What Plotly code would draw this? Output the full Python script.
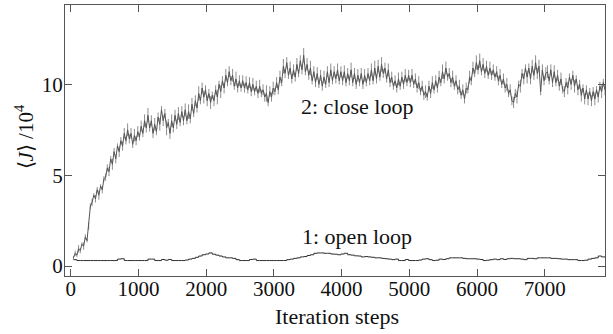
import plotly.graph_objects as go

# close loop: <J>/10^4 sampled every 25 iteration steps starting at step 40
close_start, close_step = 40, 25
close_loop = [
    0.45, 0.7, 0.6, 0.95, 0.85, 1.2, 1.1, 1.6, 1.4, 2.2,
    3.3, 3.5, 3.9, 3.7, 4.2, 3.9, 4.4, 4.2, 4.8, 4.9,
    5.4, 5.2, 5.9, 5.6, 6.3, 5.9, 6.6, 6.3, 6.9, 6.6,
    7.3, 6.9, 7.5, 7.0, 7.3, 6.7, 7.2, 6.9, 7.4, 7.1,
    7.7, 7.3, 8.0, 7.6, 8.3, 7.6, 8.0, 7.3, 7.8, 7.4,
    8.2, 7.8, 8.6, 8.0, 8.4, 7.6, 7.9, 7.3, 8.0, 7.6,
    8.3, 7.8, 8.4, 7.9, 8.5, 8.0, 8.6, 8.0, 8.5, 8.1,
    8.9, 8.4, 9.1, 8.7, 9.5, 9.1, 9.8, 9.3, 9.7, 9.1,
    9.5, 9.0, 9.4, 9.1, 9.7, 9.3, 10.0, 9.6, 10.2, 9.8,
    10.5, 10.1, 10.7, 10.2, 10.5, 9.9, 10.3, 9.8, 10.2, 9.8,
    10.2, 9.8, 10.1, 9.7, 10.1, 9.6, 10.0, 9.6, 9.9, 9.5,
    9.9, 9.5, 9.7, 9.3, 9.5, 9.0, 9.6, 9.3, 9.8, 9.6,
    10.1, 9.7, 10.4, 10.1, 11.0, 10.6, 11.2, 10.5, 10.9, 10.3,
    10.8, 10.4, 11.1, 10.6, 11.3, 10.8, 11.6, 10.7, 11.1, 10.5,
    10.9, 10.2, 10.7, 10.1, 10.6, 10.0, 10.5, 9.9, 10.4, 10.0,
    10.7, 10.1, 10.8, 10.2, 10.7, 10.3, 10.8, 10.2, 10.7, 10.2,
    10.7, 10.1, 10.6, 10.2, 10.8, 10.1, 10.6, 10.0, 10.5, 10.1,
    10.6, 10.0, 10.5, 10.1, 10.6, 10.2, 10.8, 10.2, 10.9, 10.3,
    11.0, 10.4, 11.1, 10.6, 10.9, 10.3, 10.8, 10.1, 10.4, 9.9,
    10.2, 9.8, 10.3, 9.9, 10.4, 10.0, 10.5, 10.1, 10.5, 10.1,
    10.5, 10.0, 10.3, 9.8, 10.1, 9.6, 9.9, 9.4, 9.6, 9.3,
    9.9, 9.5, 10.1, 9.7, 10.2, 9.8, 10.4, 10.1, 10.7, 10.3,
    10.9, 10.4, 10.6, 10.1, 10.4, 9.9, 10.2, 9.7, 9.9, 9.4,
    9.7, 9.2, 9.8, 9.7, 10.4, 10.2, 10.9, 10.6, 11.2, 10.8,
    11.3, 10.7, 11.1, 10.6, 11.0, 10.5, 10.9, 10.5, 10.8, 10.4,
    10.7, 10.2, 10.5, 10.0, 10.3, 9.8, 10.0, 9.5, 9.7, 9.1,
    9.0, 9.5, 9.3, 10.0, 9.9, 10.6, 10.3, 10.9, 10.4, 10.9,
    10.3, 11.0, 10.5, 11.2, 10.6, 11.0, 9.6, 10.8, 10.2, 10.6,
    10.7, 10.2, 10.8, 10.1, 10.7, 10.1, 10.5, 9.9, 10.3, 9.7,
    9.6, 10.1, 9.8, 10.4, 10.0, 10.5, 9.9, 10.3, 9.7, 10.0,
    9.4, 9.8, 9.2, 9.7, 9.2, 9.6, 9.1, 9.6, 9.2, 9.7,
    9.3, 9.9, 9.6, 10.1, 9.7,
]

# close loop: half-height of the short vertical fluctuation at each sample
close_spread = [
    0.1, 0.15, 0.1, 0.2, 0.15, 0.1, 0.2, 0.15, 0.1, 0.2,
    0.15, 0.2, 0.1, 0.2, 0.15, 0.25, 0.1, 0.2, 0.15, 0.2,
    0.2, 0.25, 0.15, 0.3, 0.2, 0.25, 0.15, 0.3, 0.2, 0.25,
    0.3, 0.2, 0.35, 0.25, 0.3, 0.2, 0.35, 0.25, 0.3, 0.2,
    0.3, 0.2, 0.35, 0.25, 0.4, 0.2, 0.3, 0.25, 0.35, 0.2,
    0.25, 0.35, 0.2, 0.3, 0.25, 0.4, 0.2, 0.3, 0.35, 0.25,
    0.3, 0.25, 0.35, 0.2, 0.3, 0.25, 0.35, 0.2, 0.4, 0.25,
    0.35, 0.2, 0.3, 0.25, 0.4, 0.2, 0.3, 0.35, 0.25, 0.3,
    0.25, 0.35, 0.2, 0.3, 0.25, 0.4, 0.2, 0.35, 0.25, 0.3,
    0.35, 0.2, 0.3, 0.25, 0.35, 0.2, 0.4, 0.25, 0.3, 0.2,
    0.3, 0.25, 0.35, 0.2, 0.3, 0.25, 0.35, 0.2, 0.3, 0.25,
    0.35, 0.2, 0.3, 0.25, 0.45, 0.2, 0.3, 0.25, 0.35, 0.2,
    0.3, 0.25, 0.35, 0.2, 0.4, 0.25, 0.3, 0.2, 0.35, 0.25,
    0.3, 0.25, 0.35, 0.2, 0.3, 0.25, 0.4, 0.2, 0.35, 0.25,
    0.4, 0.2, 0.3, 0.25, 0.35, 0.2, 0.3, 0.25, 0.35, 0.2,
    0.3, 0.25, 0.35, 0.2, 0.3, 0.25, 0.35, 0.2, 0.3, 0.25,
    0.35, 0.2, 0.3, 0.25, 0.4, 0.2, 0.3, 0.25, 0.35, 0.2,
    0.3, 0.25, 0.35, 0.2, 0.3, 0.25, 0.35, 0.2, 0.4, 0.25,
    0.35, 0.2, 0.4, 0.25, 0.3, 0.2, 0.35, 0.25, 0.3, 0.2,
    0.3, 0.25, 0.35, 0.2, 0.3, 0.25, 0.35, 0.2, 0.3, 0.25,
    0.35, 0.2, 0.3, 0.25, 0.35, 0.2, 0.3, 0.25, 0.35, 0.2,
    0.3, 0.25, 0.35, 0.2, 0.3, 0.25, 0.35, 0.2, 0.4, 0.25,
    0.35, 0.2, 0.3, 0.25, 0.35, 0.2, 0.3, 0.25, 0.35, 0.2,
    0.3, 0.25, 0.3, 0.2, 0.35, 0.25, 0.35, 0.2, 0.4, 0.25,
    0.4, 0.2, 0.35, 0.25, 0.3, 0.2, 0.35, 0.25, 0.3, 0.2,
    0.3, 0.25, 0.35, 0.2, 0.3, 0.25, 0.35, 0.2, 0.3, 0.25,
    0.3, 0.25, 0.35, 0.2, 0.35, 0.25, 0.3, 0.2, 0.35, 0.25,
    0.3, 0.35, 0.25, 0.4, 0.3, 0.35, 0.2, 0.3, 0.25, 0.35,
    0.35, 0.2, 0.3, 0.25, 0.35, 0.2, 0.3, 0.25, 0.35, 0.2,
    0.3, 0.25, 0.35, 0.2, 0.3, 0.25, 0.35, 0.2, 0.3, 0.25,
    0.35, 0.2, 0.3, 0.25, 0.35, 0.2, 0.3, 0.25, 0.35, 0.2,
    0.3, 0.25, 0.35, 0.2, 0.3,
]

# open loop: <J>/10^4 sampled every 50 iteration steps starting at step 40
open_start, open_step = 40, 50
open_loop = [
    0.35, 0.3, 0.3, 0.3, 0.3, 0.3, 0.3, 0.3, 0.3, 0.3,
    0.3, 0.3, 0.3, 0.38, 0.4, 0.3, 0.3, 0.3, 0.3, 0.3,
    0.3, 0.3, 0.38, 0.38, 0.3, 0.3, 0.36, 0.32, 0.36, 0.3,
    0.3, 0.3, 0.3, 0.33, 0.38, 0.42, 0.48, 0.55, 0.62, 0.66,
    0.72, 0.65, 0.6, 0.55, 0.5, 0.45, 0.45, 0.42, 0.35, 0.3,
    0.3, 0.3, 0.36, 0.38, 0.3, 0.3, 0.3, 0.3, 0.3, 0.3,
    0.3, 0.3, 0.3, 0.35, 0.38, 0.42, 0.45, 0.5, 0.52, 0.58,
    0.62, 0.7, 0.72, 0.72, 0.7, 0.7, 0.66, 0.65, 0.62, 0.66,
    0.7, 0.62, 0.6, 0.56, 0.55, 0.5, 0.52, 0.5, 0.48, 0.45,
    0.45, 0.42, 0.4, 0.38, 0.35, 0.38, 0.3, 0.3, 0.36, 0.3,
    0.3, 0.3, 0.33, 0.38, 0.4, 0.35, 0.3, 0.32, 0.38, 0.36,
    0.4, 0.45, 0.45, 0.45, 0.45, 0.42, 0.4, 0.4, 0.4, 0.38,
    0.36, 0.3, 0.32, 0.35, 0.38, 0.35, 0.4, 0.36, 0.4, 0.42,
    0.4, 0.4, 0.38, 0.35, 0.42, 0.42, 0.4, 0.45, 0.45, 0.45,
    0.45, 0.42, 0.42, 0.4, 0.38, 0.38, 0.35, 0.35, 0.35, 0.3,
    0.3, 0.32, 0.38, 0.42, 0.45, 0.55, 0.5, 0.52,
]

x_ticks = [0, 1000, 2000, 3000, 4000, 5000, 6000, 7000]
y_ticks = [0, 5, 10]

close_x = [close_start + close_step * i for i in range(len(close_loop))]
open_x = [open_start + open_step * i for i in range(len(open_loop))]

FONT = "Liberation Serif"
TXT = "#111111"

fig = go.Figure()
fig.add_trace(go.Scatter(x=close_x, y=close_loop, mode="lines",
                         line=dict(color="#555555", width=1), showlegend=False,
                         error_y=dict(type="data", array=close_spread, visible=True,
                                      color="#707070", thickness=0.8, width=0)))
fig.add_trace(go.Scatter(x=open_x, y=open_loop, mode="lines", line_shape="hv",
                         line=dict(color="#303030", width=1), showlegend=False))

axis_common = dict(showline=True, linecolor="#555555", linewidth=1, mirror="ticks",
                   ticks="inside", ticklen=7, tickcolor="#555555", tickwidth=1,
                   showgrid=False, zeroline=False,
                   tickfont=dict(family=FONT, size=21, color=TXT))

fig.update_xaxes(range=[-85, 7890], tickvals=x_ticks, ticklabelstandoff=-6,
                 **axis_common)
fig.update_yaxes(range=[-0.55, 14.37], tickvals=y_ticks, ticklabelstandoff=-3,
                 **axis_common)

fig.add_annotation(x=4220, y=8.8, text="2: close loop", showarrow=False,
                   font=dict(family=FONT, size=22, color=TXT))
fig.add_annotation(x=4220, y=1.64, text="1: open loop", showarrow=False,
                   font=dict(family=FONT, size=22, color=TXT))
fig.add_annotation(xref="paper", yref="paper", x=0.504, y=-0.149,
                   text="Iteration steps", showarrow=False, yanchor="middle",
                   font=dict(family=FONT, size=22, color=TXT))
fig.add_annotation(xref="paper", yref="paper", x=-0.0745, y=0.514, textangle=-90,
                   text="⟨<i>J</i>⟩ /10<sup>4</sup>", showarrow=False,
                   xanchor="center", yanchor="middle",
                   font=dict(family=FONT, size=21, color=TXT))

fig.update_layout(width=613, height=334, margin=dict(l=65, r=8, t=5, b=58),
                  paper_bgcolor="white", plot_bgcolor="white")

fig.write_html("out.html")
